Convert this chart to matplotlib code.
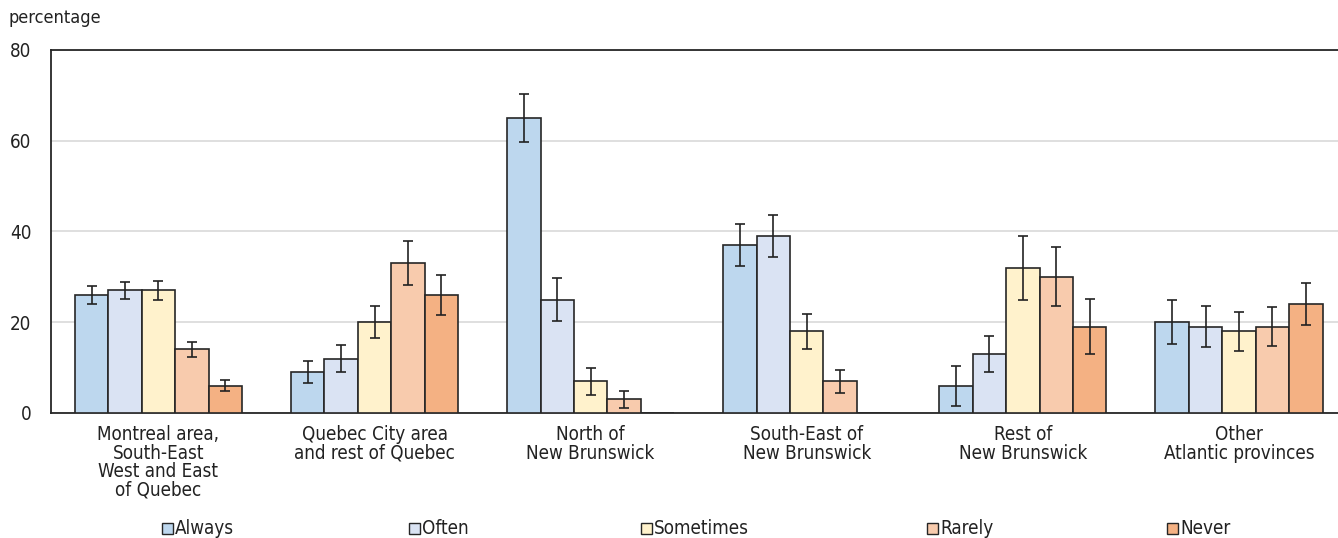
import matplotlib
matplotlib.use("Agg")
import matplotlib.pyplot as plt
import numpy as np
from matplotlib.patches import Rectangle

plt.rcParams['font.family'] = ['DejaVu Sans']
plt.rcParams['font.stretch'] = 'condensed'

categories = ["Montreal area,\nSouth-East\nWest and East\nof Quebec",
              "Quebec City area\nand rest of Quebec",
              "North of\nNew Brunswick",
              "South-East of\nNew Brunswick",
              "Rest of\nNew Brunswick",
              "Other\nAtlantic provinces"]
series = ["Always", "Often", "Sometimes", "Rarely", "Never"]
always = [26, 9, 65, 37, 6, 20]
often = [27, 12, 25, 39, 13, 19]
sometimes = [27, 20, 7, 18, 32, 18]
rarely = [14, 33, 3, 7, 30, 19]
never = [6, 26, 0, 0, 19, 24]
always_err = [1.9, 2.4, 5.2, 4.6, 4.4, 4.8]
often_err = [1.9, 2.9, 4.8, 4.7, 4.0, 4.5]
sometimes_err = [2.1, 3.5, 3.0, 3.8, 7.0, 4.3]
rarely_err = [1.7, 4.8, 1.9, 2.5, 6.5, 4.3]
never_err = [1.2, 4.4, 0, 0, 6.1, 4.7]
yticks = [0, 20, 40, 60, 80]

values = [always, often, sometimes, rarely, never]
errors = [always_err, often_err, sometimes_err, rarely_err, never_err]
colors = ["#BDD7EE", "#DAE3F3", "#FFF2CC", "#F8CBAD", "#F4B183"]
edge = "#262626"
tcol = "#222222"

W, H = 1338, 538
fig = plt.figure(figsize=(W / 100, H / 100), dpi=100)
ax = fig.add_axes([51 / W, 1 - 413 / H, (W - 51) / W, (413 - 50) / H])

x = np.arange(len(categories))
bw = 0.1546
for i, (vals, errs, c) in enumerate(zip(values, errors, colors)):
    xs = x + (i - 2) * bw
    ax.bar(xs, vals, width=bw, color=c, edgecolor=edge, linewidth=1.2, zorder=3)
    v = np.array(vals, dtype=float)
    e = np.array(errs, dtype=float)
    m = v > 0
    ax.errorbar(xs[m], v[m], yerr=e[m], fmt='none', ecolor=tcol, elinewidth=1.2,
                capsize=3.6, capthick=1.2, zorder=4)

ax.set_xlim(-0.497, 5.458)
ax.set_ylim(0, 80)
ax.set_yticks(yticks)
ax.set_yticklabels([str(t) for t in yticks], fontsize=13.5, color=tcol)
ax.yaxis.grid(True, color="#d9d9d9", linewidth=1.2, zorder=0)
ax.set_axisbelow(True)
ax.tick_params(axis='y', length=0, pad=14)
ax.tick_params(axis='x', length=0, pad=9)
ax.set_xticks(x)
ax.set_xticklabels(categories, fontsize=13.5, color=tcol, linespacing=0.95)
for s in ['top', 'left', 'bottom']:
    ax.spines[s].set_color(edge)
    ax.spines[s].set_linewidth(1.3)
ax.spines['right'].set_visible(False)

fig.text(8 / W, 1 - 18 / H, "percentage", fontsize=13, color=tcol, va='center', ha='left')

leg_x = [163, 410, 642, 928, 1168]
ly = 528
for lx, name, c in zip(leg_x, series, colors):
    fig.patches.append(Rectangle(((lx - 1) / W, 1 - (ly + 6) / H), 11 / W, 11 / H,
                                 transform=fig.transFigure, facecolor=c,
                                 edgecolor=edge, linewidth=1.0))
    fig.text((lx + 12) / W, 1 - ly / H, name, fontsize=13.5, color=tcol, va='center', ha='left')

fig.savefig("out.png", dpi=100)
